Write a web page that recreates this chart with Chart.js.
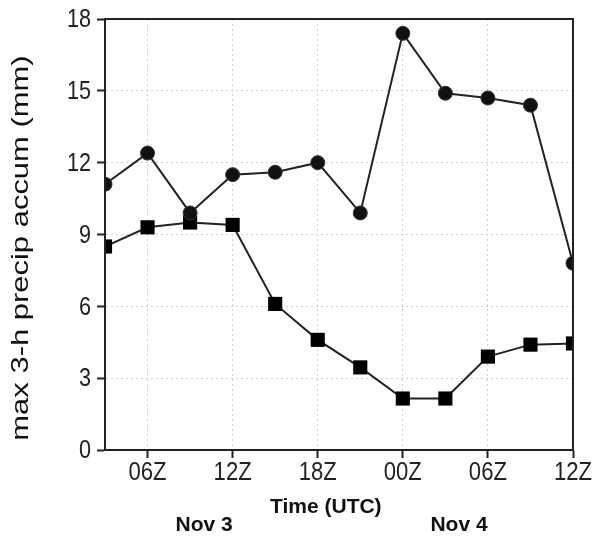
<!DOCTYPE html>
<html>
<head>
<meta charset="utf-8">
<script src="https://cdn.jsdelivr.net/npm/chart.js@4"></script>
<style>
  html, body { margin: 0; padding: 0; background: #fff; }
  #wrap { width: 594px; height: 537px; }
</style>
</head>
<body>
<div id="wrap"><canvas id="chart" width="594" height="537"></canvas></div>
<script>
// time steps, every 3 h from 03Z Nov 3 to 12Z Nov 4
const steps = [0, 1, 2, 3, 4, 5, 6, 7, 8, 9, 10, 11];
const tickSteps = [1, 3, 5, 7, 9, 11];
const tickLabels = ["06Z", "12Z", "18Z", "00Z", "06Z", "12Z"];
const yTicks = [0, 3, 6, 9, 12, 15, 18];

// series
const circleVals = [11.1, 12.4, 9.9, 11.5, 11.6, 12.0, 9.9, 17.4, 14.9, 14.7, 14.4, 7.8];
const squareVals = [8.5, 9.3, 9.5, 9.4, 6.1, 4.6, 3.45, 2.15, 2.15, 3.9, 4.4, 4.45];

const dayLabels = [{ text: "Nov 3", at: 2.33 }, { text: "Nov 4", at: 8.32 }];
const xTitle = { text: "Time (UTC)", at: 5.19 };
const yTitle = "max 3-h precip accum (mm)";

const SANS = "'Liberation Sans', Arial, sans-serif";

// narrow text helper (the original lettering is squeezed sideways)
function narrowText(ctx, text, x, y, sx, align) {
  ctx.save();
  ctx.translate(x, y);
  ctx.scale(sx, 1);
  ctx.textAlign = align;
  ctx.fillText(text, 0, 0);
  ctx.restore();
}

// frame, tick labels, titles and day labels
const extras = {
  id: "extras",
  afterDraw(chart) {
    const ctx = chart.ctx;
    const a = chart.chartArea;
    const x = chart.scales.x;
    const y = chart.scales.y;
    ctx.save();
    ctx.strokeStyle = "#222";
    ctx.lineWidth = 2;
    ctx.strokeRect(a.left, a.top, a.right - a.left, a.bottom - a.top);

    ctx.fillStyle = "#222";
    ctx.textBaseline = "middle";
    ctx.font = "26px " + SANS;
    yTicks.forEach(v => narrowText(ctx, String(v), a.left - 14, y.getPixelForValue(v) + 1, 0.83, "right"));
    tickSteps.forEach((v, i) => narrowText(ctx, tickLabels[i], x.getPixelForValue(v), a.bottom + 23, 0.85, "center"));

    ctx.fillStyle = "#111";
    ctx.font = "bold 21px " + SANS;
    ctx.textAlign = "center";
    ctx.fillText(xTitle.text, x.getPixelForValue(xTitle.at), 507);
    dayLabels.forEach(d => ctx.fillText(d.text, x.getPixelForValue(d.at), 525));

    ctx.font = "24px " + SANS;
    ctx.translate(21, 248);
    ctx.rotate(-Math.PI / 2);
    ctx.scale(1.29, 1);
    ctx.fillText(yTitle, 0, 0);
    ctx.restore();
  }
};

const points = (vals) => steps.map((s, i) => ({ x: s, y: vals[i] }));

const gridOpts = {
  color: "#cfcfcf",
  tickColor: "#222",
  tickWidth: 2,
  tickLength: 8,
  tickBorderDash: []
};

new Chart(document.getElementById("chart"), {
  type: "line",
  data: {
    datasets: [
      {
        data: points(circleVals),
        borderColor: "#222",
        backgroundColor: "#111",
        borderWidth: 2,
        pointStyle: "circle",
        pointRadius: 7,
        pointBorderWidth: 1,
        pointBorderColor: "#333",
        clip: 0
      },
      {
        data: points(squareVals),
        borderColor: "#222",
        backgroundColor: "#000",
        borderWidth: 2,
        pointStyle: "rect",
        pointRadius: 10,
        pointBorderWidth: 0,
        clip: 0
      }
    ]
  },
  options: {
    responsive: false,
    animation: false,
    layout: { padding: { top: 19, right: 21, left: 0, bottom: 0 } },
    plugins: { legend: { display: false }, tooltip: { enabled: false } },
    scales: {
      x: {
        type: "linear",
        min: 0,
        max: 11,
        afterBuildTicks: (s) => { s.ticks = tickSteps.map(v => ({ value: v })); },
        afterFit: (s) => { s.height = 87; },
        border: { color: "#222", width: 2, dash: [2, 3] },
        grid: gridOpts,
        ticks: { display: false }
      },
      y: {
        min: 0,
        max: 18,
        afterBuildTicks: (s) => { s.ticks = yTicks.map(v => ({ value: v })); },
        afterFit: (s) => { s.width = 105; },
        border: { color: "#222", width: 2, dash: [2, 3] },
        grid: gridOpts,
        ticks: { display: false }
      }
    }
  },
  plugins: [extras]
});
</script>
</body>
</html>
